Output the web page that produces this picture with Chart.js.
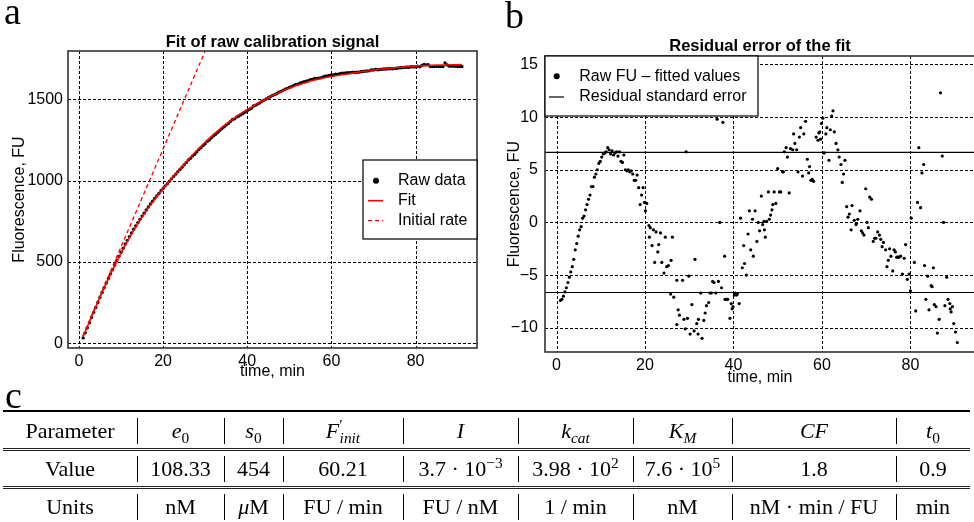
<!DOCTYPE html>
<html><head><meta charset="utf-8">
<script src="https://cdn.jsdelivr.net/npm/chart.js@4.4.1/dist/chart.umd.min.js"></script>
<style>
html,body{margin:0;padding:0;background:#fff;overflow:hidden;width:974px;height:522px;}
#wrap{position:relative;width:974px;height:522px;overflow:hidden;background:#fff;}
#cA{position:absolute;left:0;top:0;}
#cB{position:absolute;left:490px;top:0;}
.plab{position:absolute;font-family:"Liberation Serif","DejaVu Serif",serif;font-size:38px;line-height:38px;color:#000;}
#tbl{position:absolute;left:0;top:0;width:974px;height:522px;font-family:"Liberation Serif","DejaVu Serif",serif;font-size:22px;color:#000;pointer-events:none;}
.cell{position:absolute;display:flex;align-items:center;justify-content:center;white-space:nowrap;}
.vbar{position:absolute;width:1px;background:#000;}
.rule{position:absolute;left:3px;width:967px;}
sub{font-size:70%;vertical-align:-0.3em;line-height:0;}
sup{font-size:70%;vertical-align:0.55em;line-height:0;}
.pr{margin-right:-0.2em;}
</style></head>
<body><div id="wrap">
<canvas id="cA" width="490" height="392"></canvas>
<canvas id="cB" width="489" height="392"></canvas>
<div class="plab" style="left:4px;top:-8px;">a</div>
<div class="plab" style="left:505px;top:-4px;">b</div>
<div class="plab" style="left:5px;top:376px;">c</div>
<div id="tbl"></div>
</div>
<script>
// ---------- Panel a data ----------
const fitTime = [1,2,3,4,5,6,7,8,9,10,11,12,13,14,15,16,17,18,19,20,21,22,23,24,25,26,27,28,29,30,31,32,33,34,35,36,37,38,39,40,41,42,43,44,45,46,47,48,49,50,51,52,53,54,55,56,57,58,59,60,61,62,63,64,65,66,67,68,69,70,71,72,73,74,75,76,77,78,79,80,81,82,83,84,85,86,87,88,89,90,91];
const fitFU = [40,102,164,224,284,342,397,451,504,554,
603,649,694,736,776,814,851,886,919,950,
982,1013,1043,1072,1101,1130,1158,1185,1211,1236,
1260,1284,1306,1328,1348,1368,1386,1404,1421,1437,
1452,1467,1482,1496,1510,1523,1535,1547,1559,1569,
1579,1588,1596,1604,1612,1619,1625,1631,1636,1640,
1645,1649,1653,1657,1661,1665,1669,1673,1676,1680,
1683,1686,1688,1691,1693,1696,1698,1701,1703,1705,
1706,1707,1708,1709,1709,1710,1711,1711,1712,1712,1713];
const rawTime = [1,1.5,2,2.5,3,3.5,4,4.5,5,5.5,6,6.5,7,7.5,8,8.5,9,9.5,10,10.5,
11,11.5,12,12.5,13,13.5,14,14.5,15,15.5,16,16.5,17,17.5,18,18.5,19,19.5,20,20.5,
21,21.5,22,22.5,23,23.5,24,24.5,25,25.5,26,26.5,27,27.5,28,28.5,29,29.5,30,30.5,
31,31.5,32,32.5,33,33.5,34,34.5,35,35.5,36,36.5,37,37.5,38,38.5,39,39.5,40,40.5,
41,41.5,42,42.5,43,43.5,44,44.5,45,45.5,46,46.5,47,47.5,48,48.5,49,49.5,50,50.5,
51,51.5,52,52.5,53,53.5,54,54.5,55,55.5,56,56.5,57,57.5,58,58.5,59,59.5,60,60.5,
61,61.5,62,62.5,63,63.5,64,64.5,65,65.5,66,66.5,67,67.5,68,68.5,69,69.5,70,70.5,
71,71.5,72,72.5,73,73.5,74,74.5,75,75.5,76,76.5,77,77.5,78,78.5,79,79.5,80,80.5,
81,81.5,82,82.5,83,83.5,84,84.5,85,85.5,86,86.5,87,87.5,88,88.5,89,89.5,90,90.5,91];
const rawFU = [33,64,95,127,159,190,220,251,282,312,
342,371,398,427,454,481,508,534,560,585,
610,633,656,678,701,721,742,762,782,800,
819,838,856,873,890,906,921,938,951,968,
981,996,1011,1026,1040,1055,1068,1083,1097,1111,
1127,1137,1152,1162,1176,1191,1202,1216,1226,1242,
1250,1263,1275,1285,1297,1309,1321,1331,1342,1351,
1364,1376,1380,1391,1397,1405,1413,1421,1430,1438,
1445,1459,1464,1472,1478,1488,1495,1502,1510,1516,
1524,1529,1534,1543,1548,1555,1562,1567,1573,1577,
1584,1591,1593,1599,1603,1608,1611,1614,1621,1622,
1628,1628,1630,1632,1637,1642,1644,1647,1649,1650,
1654,1653,1658,1661,1661,1662,1663,1663,1666,1665,
1666,1667,1669,1671,1673,1674,1675,1680,1680,1684,
1682,1683,1685,1686,1686,1688,1688,1688,1690,1691,
1693,1694,1695,1697,1697,1697,1700,1699,1700,1704,
1700,1708,1714,1712,1713,1702,1702,1702,1703,1702,
1701,1701,1723,1711,1705,1704,1704,1703,1702,1701,
1702];
const initTime = [0.9, 31];
const initFU = [45, 1857];

// ---------- Panel b data ----------
const residTime = [
0.9,1.23,1.57,1.9,2.23,2.57,2.9,3.23,3.57,3.9,4.23,4.57,4.9,5.23,5.57,5.9,6.23,6.57,6.9,7.23,
7.57,7.9,8.23,8.57,8.9,9.23,9.57,9.9,10.23,10.57,10.9,11.23,11.57,11.9,12.23,12.57,12.9,13.23,13.57,13.9,
14.23,14.57,14.9,15.23,15.57,15.9,16.23,16.57,16.9,17.23,17.57,17.9,18.23,18.57,18.9,19.23,19.57,19.9,20.1,20.4,
20.9,21.0,21.2,21.6,21.9,22.2,22.5,22.9,23.1,23.5,23.8,24.3,24.6,24.9,25.3,25.8,25.9,26.2,26.5,27.2,
27.2,27.5,27.8,28.5,28.8,29.1,29.3,29.6,29.9,30.2,30.6,31.1,31.3,31.7,32.0,32.1,32.6,32.9,33.3,33.6,
33.9,34.4,34.7,35.0,35.3,35.6,36.0,36.3,36.6,36.9,37.3,37.6,38.0,38.1,38.4,38.7,39.2,39.5,39.7,39.9,
40.2,40.4,40.7,40.9,41.3,
41.6,42.0,42.3,42.5,42.9,43.3,43.6,43.9,44.3,44.5,44.9,45.3,45.6,45.9,46.3,46.6,46.9,47.0,47.2,47.5,
47.9,48.1,48.4,48.7,48.9,49.2,49.6,50.0,50.4,50.7,51.1,51.3,51.5,51.9,52.2,52.6,52.9,53.4,53.6,53.9,
54.3,54.6,54.9,55.2,55.6,55.9,56.3,56.7,57.0,57.2,57.5,57.8,58.1,58.7,59.1,59.3,59.5,59.7,59.9,60.2,
60.5,60.9,61.1,61.6,61.9,62.2,62.5,62.8,63.2,63.6,63.9,64.3,64.6,64.9,65.2,
65.6,65.9,66.2,66.6,66.8,67.3,67.7,67.8,68.1,68.6,68.9,69.2,69.5,69.9,70.2,70.5,70.8,71.2,71.6,71.9,
72.2,72.6,73.0,73.3,73.6,73.9,74.4,74.7,75.0,75.3,75.6,76.0,76.3,76.6,76.9,77.2,77.4,77.8,78.2,78.6,
78.9,79.3,79.7,80.0,
80.2,80.9,81.2,81.6,81.9,82.3,82.6,83.0,83.2,83.5,83.9,84.2,84.7,84.9,85.2,85.4,85.8,86.1,86.5,86.8,
87.2,87.5,87.8,88.2,88.5,88.9,89.0,89.2,89.5,89.8,90.2,90.6];
const residFU = [
-7.4,-7.3,-7.0,-6.6,-6.2,-5.7,-5.2,-4.7,-4.2,-3.5,-2.6,-2.0,-1.3,-0.7,-0.4,0.4,0.6,1.2,1.7,2.2,
2.6,3.4,3.4,4.3,4.6,5.0,5.6,5.8,6.2,6.5,6.6,6.7,7.1,6.9,6.5,6.8,6.4,6.6,6.7,6.3,
6.7,5.8,5.7,6.4,5.0,4.9,5.0,4.8,4.9,4.6,4.0,4.0,4.5,3.3,1.7,2.6,3.3,1.9,1.1,1.8,
-0.3,-1.4,-0.5,-2.2,-0.7,-3.8,-0.9,-2.8,-2.1,-1.0,-3.8,-4.8,-1.4,-4.2,-4.1,-6.8,-3.6,-1.4,-7.1,-5.5,
-9.7,-8.3,-8.8,-5.5,-9.2,-10.1,6.7,-9.1,-5.1,-10.6,-7.8,-10.3,-3.5,-9.6,-10.6,-9.2,-6.7,-11.0,-9.3,-8.6,
-7.9,-7.6,-6.7,-6.7,-5.6,-5.7,-6.7,9.8,-5.6,0.0,-6.2,9.5,-3.2,-7.3,-7.3,-7.3,-9.1,-7.7,-8.2,-8.0,
-6.9,-6.7,-6.9,-6.8,-7.7,
0.4,-4.3,-2.2,-3.9,-5.0,-1.1,1.1,-2.6,0.3,-3.2,1.1,-1.8,0.0,-0.8,2.5,-0.2,0.1,-0.7,-1.4,0.1,
2.9,0.3,0.7,1.2,1.7,2.9,1.8,5.1,2.9,2.9,4.8,4.8,6.7,7.1,6.2,2.8,7.0,6.9,8.4,7.5,
6.9,4.8,8.1,9.0,4.4,8.4,9.6,6.0,4.7,5.3,4.0,4.1,3.9,8.1,7.8,8.5,8.6,7.9,9.4,9.9,
6.6,8.4,9.0,5.9,8.8,10.1,10.6,8.6,7.5,6.9,6.2,5.5,3.8,4.6,5.9,
1.5,0.5,0.8,-0.7,1.6,0.2,-0.2,-0.1,0.3,1.1,-0.8,-1.0,-1.2,3.2,0.0,-0.5,2.4,2.2,-1.8,-1.5,
-1.5,-0.9,-1.2,-1.6,-2.3,-1.9,-2.6,-4.2,-3.6,-2.5,-3.2,-4.6,-2.6,-2.8,-3.3,-3.3,-3.3,-3.2,-4.9,-3.4,
-2.1,-5.4,-4.9,-6.5,
0.4,-3.8,-8.4,1.9,7.1,1.4,4.7,5.5,-4.1,-7.3,-5.1,-8.3,-6.0,-6.1,-4.3,-7.8,-8.0,-10.5,-9.2,12.3,
6.3,0.0,-7.9,-5.2,-7.3,-7.7,-8.2,-8.5,-8.0,-9.6,-10.4,-11.4];
const rseTime = [-10, 110];
const rseUpper = [6.65, 6.65];
const rseLower = [-6.65, -6.65];

// ---------- ticks ----------
const xTicks = [0, 20, 40, 60, 80];
const yTicksA = [0, 500, 1000, 1500];
const yTicksB = [-10, -5, 0, 5, 10, 15];

// ---------- table c ----------
const tableParams = ['Parameter','<i>e</i><sub>0</sub>','<i>s</i><sub>0</sub>','<i>F</i><sup class="pr">′</sup><sub><i>init</i></sub>','<i>I</i>','<i>k</i><sub><i>cat</i></sub>','<i>K</i><sub><i>M</i></sub>','<i>CF</i>','<i>t</i><sub>0</sub>'];
const tableValues = ['Value','108.33','454','60.21','3.7 · 10<sup>−3</sup>','3.98 · 10<sup>2</sup>','7.6 · 10<sup>5</sup>','1.8','0.9'];
const tableUnits = ['Units','nM','<i>μ</i>M','FU / min','FU / nM','1 / min','nM','nM · min / FU','min'];

// ================= drawing =================
Chart.defaults.font.family = '"Liberation Sans", Arial, Helvetica, sans-serif';
Chart.defaults.color = '#000';

const pts = (xs, ys) => xs.map((x, i) => ({x: x, y: ys[i]}));
const fmt = v => String(v).replace('-', '\u2212');

function xScale(min, max, ticks, h, titlePad) {
  return {
    type: 'linear', min: min, max: max,
    afterBuildTicks: s => { s.ticks = ticks.map(v => ({value: v})); },
    afterFit: s => { s.height = h; },
    grid: {display: false, drawTicks: false},
    border: {display: false},
    ticks: {color: '#000', font: {size: 16}, padding: 4, autoSkip: false, maxRotation: 0, callback: fmt},
    title: {display: true, text: 'time, min', color: '#000', font: {size: 16}, padding: {top: 0, bottom: titlePad}}
  };
}
function yScale(min, max, ticks, w, tickPad, titlePad) {
  return {
    type: 'linear', min: min, max: max,
    afterBuildTicks: s => { s.ticks = ticks.map(v => ({value: v})); },
    afterFit: s => { s.width = w; },
    grid: {display: false, drawTicks: false},
    border: {display: false},
    ticks: {color: '#000', font: {size: 16}, padding: tickPad, autoSkip: false, callback: fmt},
    title: {display: true, text: 'Fluorescence, FU', color: '#000', font: {size: 16}, padding: {top: titlePad, bottom: 0}}
  };
}

// dotted grid at the tick values, drawn through the scales
const gridPlugin = {
  id: 'dottedGrid',
  beforeDatasetsDraw(chart) {
    const ctx = chart.ctx, a = chart.chartArea, sx = chart.scales.x, sy = chart.scales.y;
    ctx.save();
    ctx.beginPath(); ctx.rect(a.left, a.top, a.right - a.left, a.bottom - a.top); ctx.clip();
    ctx.strokeStyle = '#000'; ctx.lineWidth = 1; ctx.setLineDash([3, 2]);
    sx.ticks.forEach(t => {
      const p = Math.round(sx.getPixelForValue(t.value)) + 0.5;
      ctx.beginPath(); ctx.moveTo(p, a.top); ctx.lineTo(p, a.bottom); ctx.stroke();
    });
    sy.ticks.forEach(t => {
      const p = Math.round(sy.getPixelForValue(t.value)) + 0.5;
      ctx.beginPath(); ctx.moveTo(a.left, p); ctx.lineTo(a.right, p); ctx.stroke();
    });
    ctx.restore();
  }
};

function framePlugin(legendFn) {
  return {
    id: 'frameLegend',
    afterDraw(chart) {
      const ctx = chart.ctx, a = chart.chartArea;
      ctx.save();
      ctx.strokeStyle = '#333'; ctx.lineWidth = 1.6; ctx.setLineDash([]);
      ctx.strokeRect(a.left, a.top, a.right - a.left, a.bottom - a.top);
      ctx.restore();
      legendFn(chart, ctx, a);
    }
  };
}

function legendBox(ctx, x, y, w, h) {
  ctx.save();
  ctx.fillStyle = '#fff'; ctx.fillRect(x, y, w, h);
  ctx.strokeStyle = '#000'; ctx.lineWidth = 1.2; ctx.setLineDash([]);
  ctx.strokeRect(x, y, w, h);
  ctx.restore();
}

// Panel a
new Chart(document.getElementById('cA'), {
  type: 'scatter',
  data: {datasets: [
    {label: 'Initial rate', data: pts(initTime, initFU), showLine: true, borderColor: '#ff0000', borderWidth: 1.3, borderDash: [4, 3], pointRadius: 0, fill: false, order: 0},
    {label: 'Fit', data: pts(fitTime, fitFU), showLine: true, borderColor: '#ff0000', borderWidth: 1.6, pointRadius: 0, fill: false, order: 1},
    {label: 'Raw data', data: pts(rawTime, rawFU), showLine: false, pointRadius: 1.7, pointBackgroundColor: '#000', pointBorderWidth: 0, order: 2}
  ]},
  options: {
    responsive: false, animation: false, devicePixelRatio: 1, events: [],
    layout: {padding: {left: 0, right: 13, top: 0, bottom: 0}},
    plugins: {
      legend: {display: false}, tooltip: {enabled: false},
      title: {display: true, text: 'Fit of raw calibration signal', color: '#000', fullSize: false,
              font: {size: 16.5, weight: 'bold', lineHeight: 1}, padding: {top: 33.75, bottom: 0.75}}
    },
    scales: {x: xScale(-2.6, 94.6, xTicks, 44, 10.4), y: yScale(-29, 1797, yTicksA, 68, 5, 10)}
  },
  plugins: [gridPlugin, framePlugin((chart, ctx, a) => {
    const ds = chart.data.datasets;
    const w = 114, h = 79, x = a.right - w, y = (a.top + a.bottom) / 2 - h / 2;
    legendBox(ctx, x, y, w, h);
    ctx.save();
    ctx.font = '16px "Liberation Sans", Arial, sans-serif';
    ctx.fillStyle = '#000'; ctx.textBaseline = 'middle'; ctx.textAlign = 'left';
    const rows = [y + 20.7, y + 40.7, y + 60.7];
    ctx.beginPath(); ctx.arc(x + 13, rows[0], 3, 0, Math.PI * 2); ctx.fill();
    ctx.fillText(ds[2].label, x + 35, rows[0]);
    ctx.strokeStyle = '#ff0000'; ctx.lineWidth = 1.6;
    ctx.beginPath(); ctx.moveTo(x + 5, rows[1]); ctx.lineTo(x + 20, rows[1]); ctx.stroke();
    ctx.fillText(ds[1].label, x + 35, rows[1]);
    ctx.lineWidth = 1.3; ctx.setLineDash([4, 3]);
    ctx.beginPath(); ctx.moveTo(x + 5, rows[2]); ctx.lineTo(x + 20, rows[2]); ctx.stroke();
    ctx.setLineDash([]);
    ctx.fillText(ds[0].label, x + 35, rows[2]);
    ctx.restore();
  })]
});

// Panel b
new Chart(document.getElementById('cB'), {
  type: 'scatter',
  data: {datasets: [
    {label: 'Raw FU \u2013 fitted values', data: pts(residTime, residFU), showLine: false, pointRadius: 1.6, pointBackgroundColor: '#000', pointBorderWidth: 0, order: 0},
    {label: 'Residual standard error', data: pts(rseTime, rseUpper), showLine: true, borderColor: '#000', borderWidth: 1.2, pointRadius: 0, fill: false, order: 1},
    {label: 'Residual standard error (lower)', data: pts(rseTime, rseLower), showLine: true, borderColor: '#000', borderWidth: 1.2, pointRadius: 0, fill: false, order: 2}
  ]},
  options: {
    responsive: false, animation: false, devicePixelRatio: 1, events: [],
    layout: {padding: {left: 0, right: 0, top: 0, bottom: 0}},
    plugins: {
      legend: {display: false}, tooltip: {enabled: false},
      title: {display: true, text: 'Residual error of the fit', color: '#000', fullSize: false,
              font: {size: 16.5, weight: 'bold', lineHeight: 1}, padding: {top: 38.45, bottom: 1.05}}
    },
    scales: {x: xScale(-2.6, 94.6, xTicks, 40, 4.4), y: yScale(-12.3, 15.8, yTicksB, 55, 7, 15)}
  },
  plugins: [gridPlugin, framePlugin((chart, ctx, a) => {
    const ds = chart.data.datasets;
    const w = 213, h = 60, x = a.left, y = a.top;
    legendBox(ctx, x, y, w, h);
    ctx.save();
    ctx.font = '16px "Liberation Sans", Arial, sans-serif';
    ctx.fillStyle = '#000'; ctx.textBaseline = 'middle'; ctx.textAlign = 'left';
    const rows = [y + 20.3, y + 41];
    ctx.beginPath(); ctx.arc(x + 11.7, rows[0], 3, 0, Math.PI * 2); ctx.fill();
    ctx.fillText(ds[0].label, x + 34.3, rows[0]);
    ctx.strokeStyle = '#000'; ctx.lineWidth = 1.2;
    ctx.beginPath(); ctx.moveTo(x + 4, rows[1]); ctx.lineTo(x + 19, rows[1]); ctx.stroke();
    ctx.fillText(ds[1].label, x + 34.3, rows[1]);
    ctx.restore();
  })]
});

// Table c
(function () {
  const tbl = document.getElementById('tbl');
  const colEdges = [3, 137, 224, 283, 403, 518, 633, 732, 896, 970];
  const rowTops = [413, 451, 489];
  const rowH = 36;
  const add = (cls, css, html) => { const d = document.createElement('div'); d.className = cls; Object.assign(d.style, css); if (html) d.innerHTML = html; tbl.appendChild(d); };
  add('rule', {top: '410px', height: '2px', background: '#000'});
  add('rule', {top: '448px', height: '1px', borderTop: '1px solid #222', borderBottom: '1px solid #222'});
  add('rule', {top: '486px', height: '1px', borderTop: '1px solid #222', borderBottom: '1px solid #222'});
  [tableParams, tableValues, tableUnits].forEach((row, r) => {
    row.forEach((html, c) => {
      add('cell', {left: colEdges[c] + 'px', width: (colEdges[c + 1] - colEdges[c]) + 'px', top: rowTops[r] + 'px', height: rowH + 'px'}, '<span>' + html + '</span>');
      if (c > 0) add('vbar', {left: colEdges[c] + 'px', top: (rowTops[r] + 5) + 'px', height: (rowH - 10) + 'px'});
    });
  });
})();
</script>
</body></html>
